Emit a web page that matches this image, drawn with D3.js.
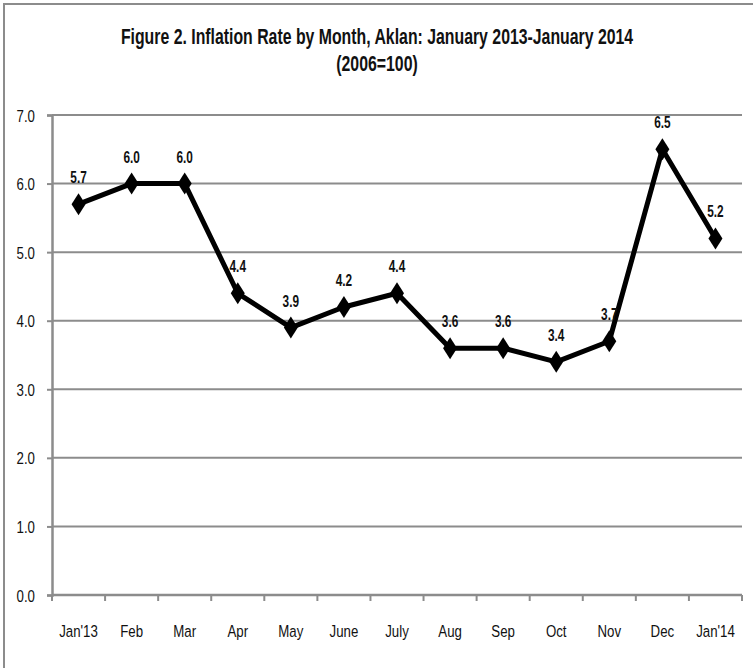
<!DOCTYPE html>
<html>
<head>
<meta charset="utf-8">
<script src="https://cdn.jsdelivr.net/npm/d3@7"></script>
<style>
  body { margin: 0; background: #fff; }
  svg text { font-family: "Liberation Sans", Arial, sans-serif; }
</style>
</head>
<body>
<div id="chart"></div>
<script>
var months = ["Jan'13", "Feb", "Mar", "Apr", "May", "June", "July", "Aug", "Sep", "Oct", "Nov", "Dec", "Jan'14"];
var rates = [5.7, 6.0, 6.0, 4.4, 3.9, 4.2, 4.4, 3.6, 3.6, 3.4, 3.7, 6.5, 5.2];
var yTicks = [0, 1, 2, 3, 4, 5, 6, 7];
var titleLines = ["Figure 2. Inflation Rate by Month, Aklan: January 2013-January 2014", "(2006=100)"];

var width = 753, height = 668;
var plotLeft = 52, plotRight = 742, plotTop = 115, plotBottom = 595;

var svg = d3.select("#chart").append("svg")
    .attr("width", width)
    .attr("height", height);

// place a text at x,y and squeeze it horizontally (the original looks like Arial Narrow)
function place(sel, fx, fy, sx) {
    sel.attr("x", 0).attr("y", 0)
        .attr("transform", function(d, i) {
            return "translate(" + fx(d, i) + "," + fy(d, i) + ") scale(" + sx + ",1)";
        });
}

// outer frame
svg.append("rect")
    .attr("x", 4).attr("y", 4)
    .attr("width", width + 10).attr("height", height + 10)
    .attr("fill", "none")
    .attr("stroke", "#8c8c8c")
    .attr("stroke-width", 2);

// title
svg.selectAll("text.title")
    .data(titleLines)
    .enter().append("text")
    .attr("class", "title")
    .attr("text-anchor", "middle")
    .attr("font-size", 22)
    .attr("font-weight", "bold")
    .attr("fill", "#111")
    .text(function(d) { return d; })
    .call(place, function() { return 377; }, function(d, i) { return 44 + i * 27; }, 0.72);

var x = d3.scaleBand().domain(months).range([plotLeft, plotRight]);
var y = d3.scaleLinear().domain([0, 7]).range([plotBottom, plotTop]);

// gridlines
svg.append("g")
    .selectAll("line")
    .data(yTicks.slice(1))
    .enter().append("line")
    .attr("x1", plotLeft).attr("x2", plotRight)
    .attr("y1", function(d) { return y(d); })
    .attr("y2", function(d) { return y(d); })
    .attr("stroke", "#8c8c8c")
    .attr("stroke-width", 2);

// y axis
var yAxis = svg.append("g")
    .attr("transform", "translate(" + plotLeft + ",0)")
    .call(d3.axisLeft(y).tickValues(yTicks).tickFormat(d3.format(".1f")).tickSize(5).tickPadding(12));
yAxis.select(".domain").attr("stroke", "#8c8c8c").attr("stroke-width", 2.5);
yAxis.selectAll(".tick line").attr("stroke", "#8c8c8c").attr("stroke-width", 2);
yAxis.selectAll(".tick text").remove();
yAxis.selectAll(".tick").append("text")
    .attr("text-anchor", "end")
    .attr("dy", "0.36em")
    .attr("font-size", 17)
    .attr("font-family", "Liberation Sans, Arial, sans-serif")
    .attr("fill", "#111")
    .text(function(d) { return d3.format(".1f")(d); })
    .call(place, function() { return -17; }, function() { return 0; }, 0.78);

// x axis, ticks on band edges
var xAxis = svg.append("g")
    .attr("transform", "translate(0," + plotBottom + ")");
xAxis.append("line")
    .attr("x1", plotLeft).attr("x2", plotRight)
    .attr("stroke", "#8c8c8c").attr("stroke-width", 2.5);
var edges = months.map(function(m) { return x(m); }).concat([plotRight]);
xAxis.selectAll("line.tk")
    .data(edges)
    .enter().append("line")
    .attr("class", "tk")
    .attr("x1", function(d) { return d; }).attr("x2", function(d) { return d; })
    .attr("y1", 0).attr("y2", 6)
    .attr("stroke", "#8c8c8c").attr("stroke-width", 2);
xAxis.selectAll("text")
    .data(months)
    .enter().append("text")
    .attr("text-anchor", "middle")
    .attr("font-size", 17)
    .attr("fill", "#111")
    .text(function(d) { return d; })
    .call(place, function(d) { return x(d) + x.bandwidth() / 2; }, function() { return 42; }, 0.78);

// line
var cx = function(d, i) { return x(months[i]) + x.bandwidth() / 2; };
var line = d3.line()
    .x(cx)
    .y(function(d) { return y(d); });

svg.append("path")
    .datum(rates)
    .attr("d", line)
    .attr("fill", "none")
    .attr("stroke", "#000")
    .attr("stroke-width", 5)
    .attr("stroke-linejoin", "round");

// diamond markers, a bit taller than wide like the original
svg.selectAll("path.pt")
    .data(rates)
    .enter().append("path")
    .attr("class", "pt")
    .attr("d", "M0,-11L7,0L0,11L-7,0Z")
    .attr("transform", function(d, i) { return "translate(" + cx(d, i) + "," + y(d) + ")"; })
    .attr("fill", "#000");

// data labels
svg.selectAll("text.lbl")
    .data(rates)
    .enter().append("text")
    .attr("class", "lbl")
    .attr("text-anchor", "middle")
    .attr("font-size", 16)
    .attr("font-weight", "bold")
    .attr("fill", "#111")
    .text(function(d) { return d3.format(".1f")(d); })
    .call(place, cx, function(d) { return y(d) - 21; }, 0.74);
</script>
</body>
</html>
